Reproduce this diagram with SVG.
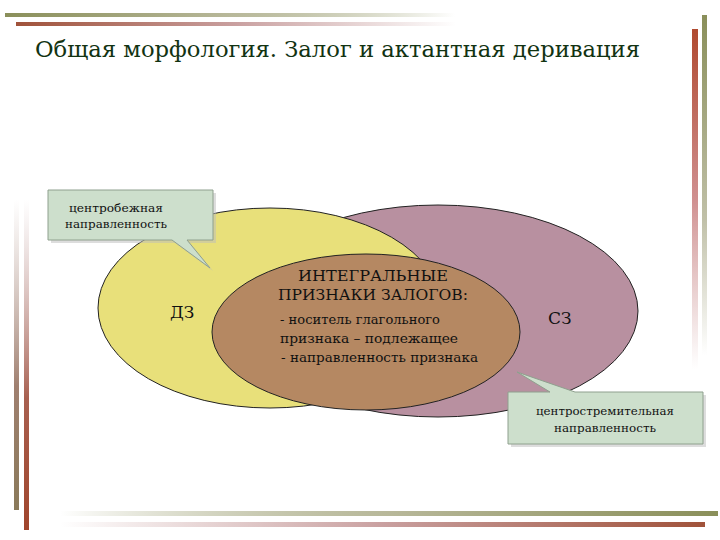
<svg xmlns="http://www.w3.org/2000/svg" width="720" height="540" viewBox="0 0 720 540" font-family="'DejaVu Serif', 'Liberation Serif', serif">
<defs>
<linearGradient id="gOl" x1="0" x2="1" y1="0" y2="0"><stop offset="0" stop-color="#8a8f5a"/><stop offset="0.5" stop-color="#b8b89a"/><stop offset="1" stop-color="#8a8f5a" stop-opacity="0"/></linearGradient>
<linearGradient id="gBr" x1="0" x2="1" y1="0" y2="0"><stop offset="0" stop-color="#a0523a"/><stop offset="0.5" stop-color="#c9a0a0"/><stop offset="1" stop-color="#c9a0a0" stop-opacity="0"/></linearGradient>
<linearGradient id="gOlR" x1="1" x2="0" y1="0" y2="0"><stop offset="0" stop-color="#8a8f5a"/><stop offset="0.5" stop-color="#b8b89a"/><stop offset="1" stop-color="#8a8f5a" stop-opacity="0"/></linearGradient>
<linearGradient id="gBrR" x1="1" x2="0" y1="0" y2="0"><stop offset="0" stop-color="#a0523a"/><stop offset="0.5" stop-color="#c9a0a0"/><stop offset="1" stop-color="#c9a0a0" stop-opacity="0"/></linearGradient>
<linearGradient id="gOlV" x1="0" x2="0" y1="0" y2="1"><stop offset="0" stop-color="#8a8f5a"/><stop offset="0.6" stop-color="#c0c0a8"/><stop offset="1" stop-color="#c0c0a8" stop-opacity="0"/></linearGradient>
<linearGradient id="gBrV" x1="0" x2="0" y1="0" y2="1"><stop offset="0" stop-color="#b04a30"/><stop offset="0.5" stop-color="#d09090"/><stop offset="1" stop-color="#d0a0a0" stop-opacity="0"/></linearGradient>
<linearGradient id="gOlU" x1="0" x2="0" y1="1" y2="0"><stop offset="0" stop-color="#8a7a5a"/><stop offset="0.4" stop-color="#a08070"/><stop offset="1" stop-color="#c0a8a0" stop-opacity="0"/></linearGradient>
<linearGradient id="gBrU" x1="0" x2="0" y1="1" y2="0"><stop offset="0" stop-color="#a0452c"/><stop offset="0.4" stop-color="#a86050"/><stop offset="1" stop-color="#c0a0a0" stop-opacity="0"/></linearGradient>
</defs>
<style>
text{font-family:'DejaVu Serif','Liberation Serif',serif;fill:#111}
.call{fill:#cddfcc;stroke:#8fa08e;stroke-width:1}
.shadow{fill:#bbb;opacity:0.5}
</style>
<rect width="720" height="540" fill="#fff"/>
<g id="frame">
<rect x="5" y="13" width="450" height="4" fill="url(#gOl)"/>
<rect x="16" y="22" width="440" height="4" fill="url(#gBr)"/>
<rect x="60" y="511" width="658" height="5" fill="url(#gOlR)"/>
<rect x="60" y="522" width="645" height="5" fill="url(#gBrR)"/>
<rect x="702" y="15" width="5" height="340" fill="url(#gOlV)"/>
<rect x="692" y="29" width="6" height="340" fill="url(#gBrV)"/>
<rect x="14" y="200" width="5" height="310" fill="url(#gOlU)"/>
<rect x="24" y="200" width="5" height="330" fill="url(#gBrU)"/>
</g>
<text x="35" y="57" font-size="22" textLength="605" lengthAdjust="spacingAndGlyphs" style="fill:#123312">Общая морфология. Залог и актантная деривация</text>
<g id="sz"><ellipse cx="438" cy="311" rx="200" ry="106" fill="#b890a0" stroke="#222" stroke-width="1"/><text x="548" y="324" font-size="17">СЗ</text></g>
<g id="dz"><ellipse cx="270" cy="308" rx="172" ry="100" fill="#e8e07a" stroke="#222" stroke-width="1"/><text x="170" y="318" font-size="17">ДЗ</text></g>
<g id="integral">
<ellipse cx="366" cy="332" rx="154" ry="78" fill="#b58862" stroke="#222" stroke-width="1"/>
<text x="373" y="281" font-size="15" text-anchor="middle" textLength="150" lengthAdjust="spacingAndGlyphs">ИНТЕГРАЛЬНЫЕ</text>
<text x="373" y="300" font-size="15" text-anchor="middle" textLength="190" lengthAdjust="spacingAndGlyphs">ПРИЗНАКИ ЗАЛОГОВ:</text>
<text x="280" y="324" font-size="12.5" textLength="160" lengthAdjust="spacingAndGlyphs">- носитель глагольного</text>
<text x="280" y="343" font-size="12.5" textLength="178" lengthAdjust="spacingAndGlyphs">признака – подлежащее</text>
<text x="281" y="362" font-size="12.5" textLength="197" lengthAdjust="spacingAndGlyphs">- направленность признака</text>
</g>
<g id="callout1">
<path class="shadow" d="M51,193 H216 V243 H190 L213,271 L175,243 H51 Z"/>
<path class="call" d="M48,190 H213 V240 H187 L210,268 L172,240 H48 Z"/>
<text x="116" y="212" font-size="11" text-anchor="middle" textLength="94" lengthAdjust="spacingAndGlyphs">центробежная</text>
<text x="116" y="228" font-size="11" text-anchor="middle" textLength="102" lengthAdjust="spacingAndGlyphs">направленность</text>
</g>
<g id="callout2">
<path class="shadow" d="M511,395 H706 V447 H511 Z"/>
<path class="call" d="M508,392 H550 L517,372 L575,392 H703 V444 H508 Z"/>
<text x="605" y="415" font-size="11" text-anchor="middle" textLength="138" lengthAdjust="spacingAndGlyphs">центростремительная</text>
<text x="605" y="432" font-size="11" text-anchor="middle" textLength="102" lengthAdjust="spacingAndGlyphs">направленность</text>
</g>
<g id="connectors"/>
</svg>
